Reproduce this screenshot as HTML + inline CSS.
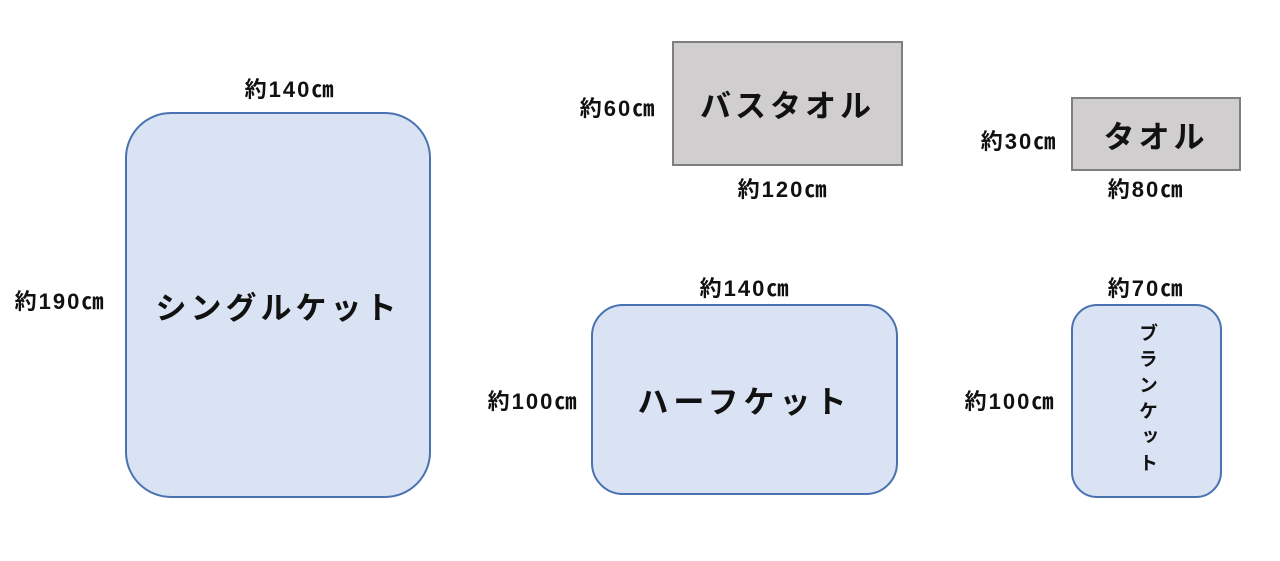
<!DOCTYPE html>
<html><head><meta charset="utf-8"><style>
body{margin:0;width:1280px;height:561px;background:#fff;position:relative;overflow:hidden;font-family:"Liberation Sans","Noto Sans CJK JP",sans-serif;}
.b{position:absolute;box-sizing:border-box;display:flex;align-items:center;justify-content:center;color:#111;font-weight:bold;}
.blue{background:#dae3f3;border:2px solid #4a72b0;}
.gray{background:#d0cece;border:2px solid #7f7f7f;}
.l{position:absolute;font-weight:bold;font-size:22px;letter-spacing:2px;color:#111;white-space:nowrap;transform:translate(-50%,-50%);}
</style></head><body>
<div class="b blue" style="left:125px;top:112px;width:306px;height:386px;border-radius:46px;font-size:31px;letter-spacing:4px;padding-top:0">シングルケット</div>
<div class="b gray" style="left:672px;top:41px;width:231px;height:125px;font-size:31px;letter-spacing:4px">バスタオル</div>
<div class="b gray" style="left:1071px;top:97px;width:170px;height:74px;font-size:31px;letter-spacing:4px">タオル</div>
<div class="b blue" style="left:591px;top:304px;width:307px;height:191px;border-radius:32px;font-size:31px;letter-spacing:5px">ハーフケット</div>
<div class="b blue" style="left:1071px;top:304px;width:151px;height:194px;border-radius:26px;font-size:19px;writing-mode:vertical-rl;letter-spacing:7px">ブランケット</div>
<div class="l" style="left:290px;top:88px">約140㎝</div>
<div class="l" style="left:60px;top:300px">約190㎝</div>
<div class="l" style="left:618px;top:107px">約60㎝</div>
<div class="l" style="left:783px;top:188px">約120㎝</div>
<div class="l" style="left:1019px;top:140px">約30㎝</div>
<div class="l" style="left:1146px;top:188px">約80㎝</div>
<div class="l" style="left:745px;top:287px">約140㎝</div>
<div class="l" style="left:533px;top:400px">約100㎝</div>
<div class="l" style="left:1146px;top:287px">約70㎝</div>
<div class="l" style="left:1010px;top:400px">約100㎝</div>
</body></html>
